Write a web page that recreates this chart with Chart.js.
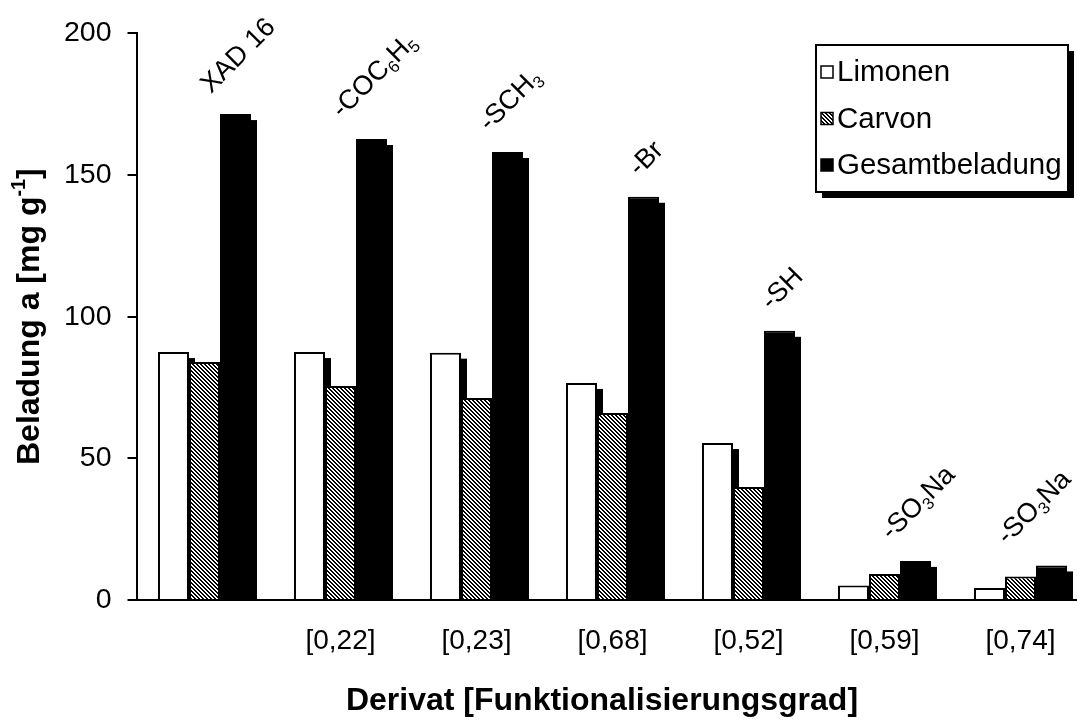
<!DOCTYPE html>
<html>
<head>
<meta charset="utf-8">
<script src="https://cdn.jsdelivr.net/npm/chart.js@4.4.1/dist/chart.umd.min.js"></script>
<style>
  html, body { margin: 0; padding: 0; background: #fff; overflow: hidden; }
  #wrap { width: 1100px; height: 724px; }
</style>
</head>
<body>
<div id="wrap"><canvas id="chart"></canvas></div>
<script>
// data
const categories = ["", "[0,22]", "[0,23]", "[0,68]", "[0,52]", "[0,59]", "[0,74]"];
const derivate = ["XAD 16", "-COC_6H_5", "-SCH_3", "-Br", "-SH", "-SO_3Na", "-SO_3Na"];
const limonen = [87.5, 87.5, 87.3, 76.6, 55.4, 5.1, 4.2];
const carvon = [84.0, 75.5, 71.3, 66.0, 39.9, 9.2, 8.3];
const gesamt = [171.5, 162.7, 158.1, 142.3, 95.0, 13.8, 12.2];
const seriesNames = ["Limonen", "Carvon", "Gesamtbeladung"];
const yTicks = [0, 50, 100, 150, 200];

const FONT = "'Liberation Sans', Arial, sans-serif";
const VIEW_W = 1077; // visible page width, labels stay inside it
const canvas = document.getElementById("chart");
const ctx0 = canvas.getContext("2d");

// diagonal hatch for Carvon
function makeHatch() {
  const c = document.createElement("canvas");
  c.width = 4; c.height = 4;
  const g = c.getContext("2d");
  g.fillStyle = "#fff";
  g.fillRect(0, 0, 4, 4);
  g.fillStyle = "#000";
  for (let y = 0; y < 4; y++) {
    for (let x = 0; x < 4; x++) {
      if ((((x - y) % 4) + 4) % 4 < 2) g.fillRect(x, y, 1, 1);
    }
  }
  return ctx0.createPattern(c, "repeat");
}
const hatch = makeHatch();
const fills = ["#fff", hatch, "#000"];

// split "-COC_6H_5" into normal / subscript pieces
function pieces(str) {
  return str.split(/(_\d)/).filter(s => s).map(s =>
    s[0] === "_" ? { t: s.slice(1), sub: true } : { t: s, sub: false });
}

function drawRich(ctx, parts, x, y, size, weight) {
  // x = start, y = middle baseline
  parts.forEach(p => {
    const fs = p.sub || p.sup ? size * 0.62 : size;
    ctx.font = weight + " " + fs + "px " + FONT;
    const dy = p.sub ? size * 0.3 : (p.sup ? -size * 0.33 : 0);
    ctx.fillText(p.t, x, y + dy);
    x += ctx.measureText(p.t).width;
  });
}
function richWidth(ctx, parts, size, weight) {
  let w = 0;
  parts.forEach(p => {
    const fs = p.sub || p.sup ? size * 0.62 : size;
    ctx.font = weight + " " + fs + "px " + FONT;
    w += ctx.measureText(p.t).width;
  });
  return w;
}

// Excel style drop shadow behind every bar
const shadowPlugin = {
  id: "barShadow",
  beforeDatasetsDraw(chart) {
    const ctx = chart.ctx;
    ctx.save();
    ctx.fillStyle = "#000";
    chart.data.datasets.forEach((ds, i) => {
      chart.getDatasetMeta(i).data.forEach(bar => {
        const left = bar.x - bar.width / 2 + 6;
        const top = bar.y + 6;
        if (bar.base > top) ctx.fillRect(left, top, bar.width, bar.base - top);
      });
    });
    ctx.restore();
  }
};

// rotated derivative names above the Gesamtbeladung bars
const labelPlugin = {
  id: "derivLabels",
  afterDatasetsDraw(chart) {
    const ctx = chart.ctx;
    const size = 27;
    ctx.save();
    ctx.fillStyle = "#000";
    ctx.textBaseline = "middle";
    ctx.textAlign = "left";
    chart.getDatasetMeta(2).data.forEach((bar, i) => {
      const parts = pieces(derivate[i]);
      const L = richWidth(ctx, parts, size, "normal");
      const box = (L + size * 0.75) / Math.SQRT2;
      const cx = Math.min(bar.x + 3, VIEW_W - 3 - box / 2);
      const cy = bar.y - 18 - box / 2;
      ctx.save();
      ctx.translate(cx, cy);
      ctx.rotate(-Math.PI / 4);
      drawRich(ctx, parts, -L / 2, 0, size, "normal");
      ctx.restore();
    });
    ctx.restore();
  }
};

// axis titles (y one needs a superscript)
const titlePlugin = {
  id: "axisTitles",
  afterDraw(chart) {
    const ctx = chart.ctx;
    const a = chart.chartArea;
    const size = 32;
    const parts = [
      { t: "Beladung a [mg g" },
      { t: "-1", sup: true },
      { t: "]" }
    ];
    ctx.save();
    ctx.fillStyle = "#000";
    ctx.textBaseline = "middle";
    const L = richWidth(ctx, parts, size, "bold");
    ctx.save();
    ctx.translate(30, (a.top + a.bottom) / 2);
    ctx.rotate(-Math.PI / 2);
    drawRich(ctx, parts, -L / 2, 0, size, "bold");
    ctx.restore();
    ctx.font = "bold " + size + "px " + FONT;
    ctx.textAlign = "center";
    ctx.fillText("Derivat [Funktionalisierungsgrad]", 602, 701);
    ctx.restore();
  }
};

// framed legend with shadow, top right
const legendPlugin = {
  id: "boxLegend",
  afterDraw(chart) {
    const ctx = chart.ctx;
    const bx = 816, by = 45, bw = 252, bh = 147;
    ctx.save();
    ctx.fillStyle = "#000";
    ctx.fillRect(bx + 6, by + 6, bw, bh);
    ctx.fillStyle = "#fff";
    ctx.fillRect(bx, by, bw, bh);
    ctx.strokeStyle = "#000";
    ctx.lineWidth = 2;
    ctx.strokeRect(bx, by, bw, bh);
    ctx.font = "29.5px " + FONT;
    ctx.textBaseline = "middle";
    seriesNames.forEach((name, i) => {
      const y = by + 27 + i * 46.5;
      ctx.fillStyle = fills[i];
      ctx.fillRect(bx + 5, y - 6, 12, 12);
      ctx.lineWidth = 1.5;
      ctx.strokeRect(bx + 5, y - 6, 12, 12);
      ctx.fillStyle = "#000";
      ctx.fillText(name, bx + 21, y + 1);
    });
    ctx.restore();
  }
};

const values = [limonen, carvon, gesamt];

new Chart(canvas, {
  type: "bar",
  data: {
    labels: categories,
    datasets: seriesNames.map((name, i) => ({
      label: name,
      data: values[i],
      backgroundColor: fills[i],
      borderColor: "#000",
      borderWidth: 2,
      borderSkipped: "bottom",
      barPercentage: 1,
      categoryPercentage: 0.684
    }))
  },
  options: {
    responsive: true,
    maintainAspectRatio: false,
    animation: false,
    layout: { padding: { left: 0, right: 11.5, top: 33.3, bottom: 0 } },
    plugins: {
      legend: { display: false },
      tooltip: { enabled: false }
    },
    scales: {
      x: {
        grid: { display: false, drawTicks: false },
        border: { display: true, color: "#000", width: 2 },
        ticks: {
          color: "#000",
          padding: 24,
          maxRotation: 0,
          font: { family: FONT, size: 28 }
        },
        afterFit(scale) { scale.height = 124; }
      },
      y: {
        min: 0,
        max: 200,
        afterBuildTicks(scale) { scale.ticks = yTicks.map(v => ({ value: v })); },
        grid: {
          drawOnChartArea: false,
          drawTicks: true,
          tickLength: 9,
          color: "#000",
          lineWidth: 2
        },
        border: { display: true, color: "#000", width: 2 },
        ticks: {
          color: "#000",
          padding: 16,
          font: { family: FONT, size: 28.5 }
        },
        afterFit(scale) { scale.width = 136.5; }
      }
    }
  },
  plugins: [shadowPlugin, labelPlugin, titlePlugin, legendPlugin]
});
</script>
</body>
</html>
